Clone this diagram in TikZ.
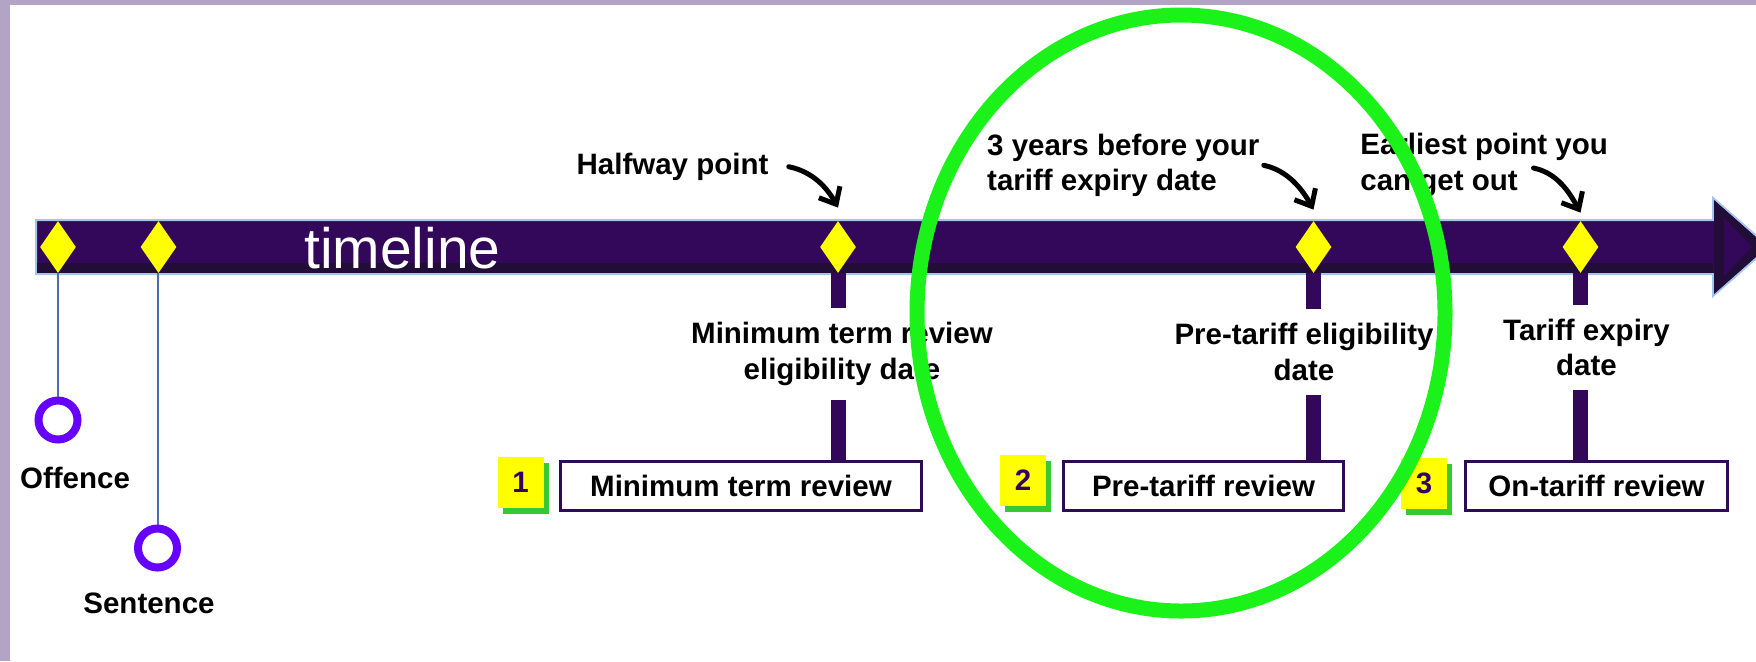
\documentclass[tikz,border=0pt]{standalone}
\usepackage{fontspec}
\setmainfont{Liberation Sans}
\usetikzlibrary{shapes.geometric,arrows.meta,shadows}
\definecolor{framegrey}{HTML}{B3A4C5}
\definecolor{barfill}{HTML}{33075A}
\definecolor{bardark}{HTML}{220D38}
\definecolor{barglow}{HTML}{A4C4EE}
\definecolor{markyellow}{HTML}{FFFF00}
\definecolor{pinline}{HTML}{4F6DB3}
\definecolor{pinring}{HTML}{6600FF}
\definecolor{boxline}{HTML}{2E0B57}
\definecolor{numtext}{HTML}{330066}
\definecolor{shadowgreen}{HTML}{36C936}
\definecolor{ringgreen}{HTML}{1AF21A}
\newcommand\lblfont{\fontsize{14.75}{17.75}\selectfont\bfseries}
\begin{document}
\begin{tikzpicture}[
  x=0.5pt,y=-0.5pt,
  every node/.style={inner sep=0pt},
  lbl/.style={font=\lblfont,align=center},
  notelbl/.style={font=\lblfont,align=left},
  marker/.style={diamond,fill=markyellow,minimum width=18pt,minimum height=26pt},
  stem/.style={draw=barfill,line width=7.5pt},
  pin/.style={draw=pinline,line width=1pt},
  ring/.style={circle,draw=pinring,line width=4pt,minimum size=19.5pt},
  review/.style={draw=boxline,line width=1.5pt,minimum height=24.5pt,font=\lblfont,fill=white},
  numbox/.style={fill=markyellow,minimum width=23pt,minimum height=25.5pt,font=\lblfont,text=numtext,
    drop shadow={shadow xshift=2.5pt,shadow yshift=-3pt,fill=shadowgreen,opacity=1}},
  pointer/.style={line width=2.5pt,line cap=round,-{Straight Barb[length=7pt,width=12pt]}},
  halo/.style={draw=ringgreen,line width=7.5pt}]
  \useasboundingbox (0,0) rectangle (1756,661);
  % frame
  \fill[framegrey] (0,0) rectangle (1756,5);
  \fill[framegrey] (0,0) rectangle (10,661);
  % timeline bar
  \draw[barglow,line width=1pt,fill=barfill] (36,220) -- (1713,220) -- (1713,198) -- (1769,247)
    -- (1713,296) -- (1713,274) -- (36,274) -- cycle;
  \fill[bardark] (37,263) rectangle (1713,273);
  \fill[bardark] (1714,200) -- (1767,247) -- (1714,294) -- cycle;
  \fill[barfill] (1724,218) -- (1752,247) -- (1724,276) -- cycle;
  \node[font=\fontsize{28.5}{30}\selectfont,text=white] (title) at (402.5,247.7) {timeline};
  % review boxes
  \node[review,minimum width=180.5pt] (rev1) at (741,486) {Minimum term review};
  \node[review,minimum width=140pt] (rev2) at (1203.5,486) {Pre-tariff review};
  \node[review,minimum width=131pt] (rev3) at (1596.5,486) {On-tariff review};
  \node[numbox] (n1) at (520.5,482) {1};
  \node[numbox] (n2) at (1023,480.5) {2};
  \node[numbox] (n3) at (1424,483) {3};
  % eligibility dates
  \node[lbl,inner ysep=7pt] (elig1) at (842,354) {Minimum term review\\eligibility date};
  \node[lbl,inner ysep=7pt] (elig2) at (1304,351.7) {Pre-tariff eligibility\\date};
  \node[lbl,inner ysep=7pt] (elig3) at (1586.5,347.5) {Tariff expiry\\date};
  % markers
  \node[marker] (dOff) at (58,247) {};
  \node[marker] (dSen) at (158.5,247) {};
  \node[marker] (dHalf) at (838,247) {};
  \node[marker] (dPre) at (1313.5,247) {};
  \node[marker] (dExp) at (1580.5,247) {};
  \draw[stem] (dHalf.south) -- (dHalf |- elig1.north);
  \draw[stem] (dHalf |- elig1.south) -- (dHalf |- rev1.north);
  \draw[stem] (dPre.south) -- (dPre |- elig2.north);
  \draw[stem] (dPre |- elig2.south) -- (dPre |- rev2.north);
  \draw[stem] (dExp.south) -- (dExp |- elig3.north);
  \draw[stem] (dExp |- elig3.south) -- (dExp |- rev3.north);
  % offence and sentence
  \node[ring] (cOff) at (58,420) {};
  \node[ring] (cSen) at (157.5,548) {};
  \draw[pin] (cOff |- dOff.south) -- (cOff);
  \draw[pin] (cSen |- dSen.south) -- (cSen);
  \node[lbl] (offence) at (75,478) {Offence};
  \node[lbl] (sentence) at (149,603.5) {Sentence};
  % notes above the bar
  \node[lbl] (half) at (672.5,166.7) {Halfway point};
  \node[notelbl] (yrs) at (1123.3,165.3) {3 years before your\\tariff expiry date};
  \node[notelbl,anchor=west] (earl) at (1360,165) {Earliest point you\\can get out};
  \draw[pointer] ([xshift=10pt]half.east) .. controls +(24,5) and +(-11,-20) .. ([yshift=6.5pt]dHalf.north);
  \draw[pointer] ([xshift=2pt]yrs.east) .. controls +(24,5) and +(-11,-20) .. ([yshift=5.5pt]dPre.north);
  \draw[pointer] ([shift={(173.5,3)}]earl.west) .. controls +(24,5) and +(-11,-20) .. ([yshift=4pt]dExp.north);
  % highlight
  \draw[halo] (1181,313) ellipse [x radius=264, y radius=298];
\end{tikzpicture}
\end{document}
